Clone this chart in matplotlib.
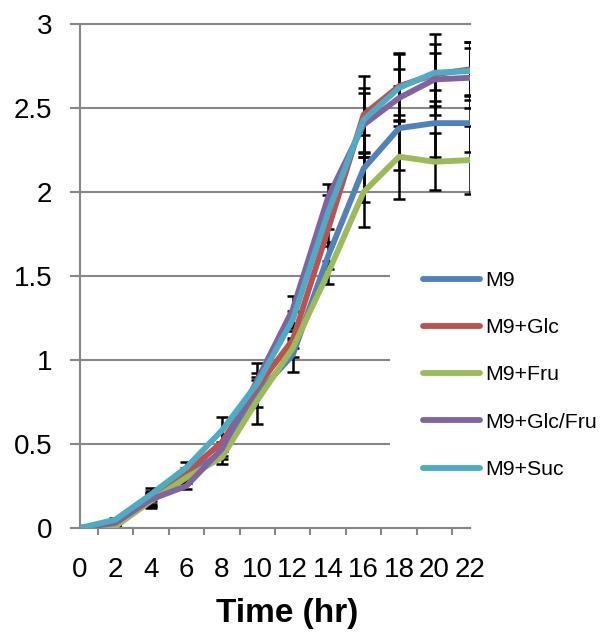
import numpy as np
import matplotlib
matplotlib.use("Agg")
import matplotlib.pyplot as plt
from matplotlib.ticker import FuncFormatter

plt.rcParams['font.family'] = ['Liberation Sans', 'DejaVu Sans']

# growth data
hours = [0, 2, 4, 6, 8, 10, 12, 14, 16, 18, 20, 22]
names = ['M9', 'M9+Glc', 'M9+Fru', 'M9+Glc/Fru', 'M9+Suc']
colors = ['#4F81BD', '#C0504D', '#9BBB59', '#8064A2', '#4BACC6']

m9 = [0, 0.03, 0.17, 0.31, 0.45, 0.80, 1.03, 1.62, 2.14, 2.38, 2.41, 2.41]
m9_glc = [0, 0.03, 0.18, 0.33, 0.51, 0.84, 1.12, 1.78, 2.46, 2.63, 2.70, 2.73]
m9_fru = [0, 0.01, 0.16, 0.30, 0.42, 0.76, 1.07, 1.52, 2.00, 2.21, 2.18, 2.19]
m9_glcfru = [0, 0.03, 0.17, 0.25, 0.47, 0.88, 1.30, 1.97, 2.40, 2.56, 2.67, 2.68]
m9_suc = [0, 0.05, 0.20, 0.36, 0.58, 0.86, 1.24, 1.88, 2.43, 2.62, 2.71, 2.72]

err_m9 = [0, 0.01, 0.04, 0.03, 0.04, 0.18, 0.10, 0.08, 0.20, 0.25, 0.20, 0.17]
err_glc = [0, 0.01, 0.04, 0.03, 0.05, 0.04, 0.05, 0.10, 0.23, 0.20, 0.24, 0.16]
err_fru = [0, 0.01, 0.04, 0.03, 0.04, 0.04, 0.05, 0.07, 0.21, 0.25, 0.17, 0.20]
err_glcfru = [0, 0.01, 0.04, 0.02, 0.04, 0.04, 0.08, 0.08, 0.19, 0.17, 0.16, 0.18]
err_suc = [0, 0.01, 0.04, 0.03, 0.08, 0.04, 0.05, 0.10, 0.19, 0.20, 0.17, 0.17]

series = [m9, m9_glc, m9_fru, m9_glcfru, m9_suc]
errors = [err_m9, err_glc, err_fru, err_glcfru, err_suc]

fig = plt.figure(figsize=(6.02, 6.32), dpi=100)
ax = fig.add_axes([80/602, 1 - 528/632, 390/602, 504/632])

grey = '#868686'

for y, e in zip(series, errors):
    ax.errorbar(hours, y, yerr=e, fmt='none', ecolor='black',
                elinewidth=1.8, capsize=4.3, capthick=1.8, zorder=2)

for y, c, n in zip(series, colors, names):
    ax.plot(hours, y, color=c, lw=4.2, label=n, zorder=3,
            solid_joinstyle='round', solid_capstyle='round')

ax.set_xlim(0, 22)
ax.set_ylim(0, 3)
ax.set_xticks(hours)
ax.set_xticks(list(range(1, 22, 2)) + [22], minor=True)
ax.set_yticks(np.arange(0, 3.01, 0.5))
ax.yaxis.set_major_formatter(FuncFormatter(lambda v, p: '%g' % v))

ax.tick_params(axis='x', which='major', length=0, pad=21, labelsize=20)
ax.tick_params(axis='x', which='minor', length=5, width=1.5, color=grey,
               direction='out')
ax.tick_params(axis='y', length=7, width=1.5, color=grey, direction='out',
               pad=13, labelsize=20)

ax.grid(axis='y', color=grey, lw=1.5)
for gl in ax.get_ygridlines():
    gl.set_clip_on(False)
ax.set_axisbelow(True)

for s in ['top', 'right']:
    ax.spines[s].set_visible(False)
for s in ['left', 'bottom']:
    ax.spines[s].set_color(grey)
    ax.spines[s].set_linewidth(1.5)

fig.text(287/602, 1 - 622/632, 'Time (hr)', fontsize=24, fontweight='bold',
         ha='center', va='baseline')

leg = ax.legend(loc='upper left', bbox_to_anchor=(390/602, 1 - 238/632),
                bbox_transform=fig.transFigure, fontsize=15.3,
                handlelength=2.7, handletextpad=0.22, labelspacing=1.33,
                borderpad=1.55, borderaxespad=0, frameon=True, fancybox=False,
                facecolor='white', edgecolor='none', framealpha=1)
for ln in leg.get_lines():
    ln.set_solid_capstyle('round')

fig.savefig('out.png', dpi=100)
